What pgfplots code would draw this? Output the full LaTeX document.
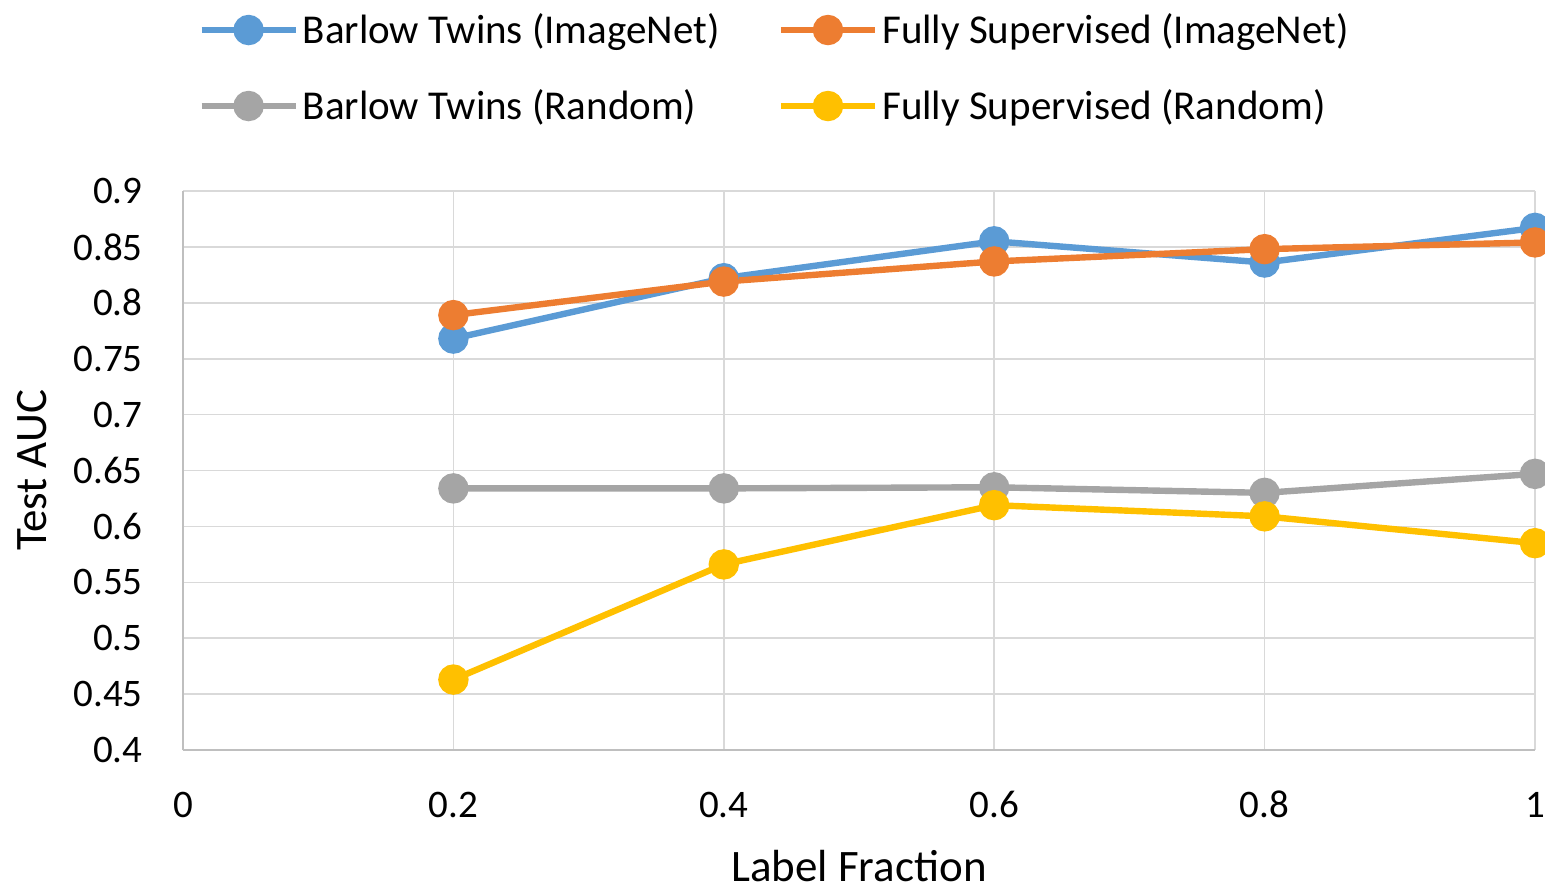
\documentclass[border=0pt]{standalone}
\usepackage{fontspec}
\setmainfont{Carlito}
\usepackage{pgfplots}
\pgfplotsset{compat=1.18}
\definecolor{cblue}{HTML}{5B9BD5}
\definecolor{corange}{HTML}{ED7D31}
\definecolor{cgray}{HTML}{A5A5A5}
\definecolor{cyellow}{HTML}{FFC000}
\definecolor{gridc}{HTML}{D9D9D9}
\definecolor{axisc}{HTML}{BFBFBF}
\begin{document}
\begin{tikzpicture}
\path[use as bounding box] (-91.5pt,-69pt) rectangle (681pt,375pt);
\begin{axis}[
  scale only axis, width=676pt, height=279.5pt,
  xmin=0, xmax=1, ymin=0.4, ymax=0.9,
  xtick={0,0.2,0.4,0.6,0.8,1},
  ytick={0.4,0.45,0.5,0.55,0.6,0.65,0.7,0.75,0.8,0.85,0.9},
  clip=false,
  grid=major,
  major grid style={color=gridc, line width=0.8pt},
  axis x line=bottom, axis y line=left,
  axis line style={-, color=axisc, line width=1pt},
  major tick length=0pt,
  /pgf/number format/assume math mode=true,
  ticklabel style={font=\fontsize{19.5}{23}\selectfont},
  yticklabel style={anchor=east, inner sep=0pt, xshift=-20pt},
  xticklabel style={anchor=base, inner sep=0pt, yshift=-33.5pt},
  xlabel={Label Fraction}, ylabel={Test AUC},
  label style={font=\fontsize{22.5}{27}\selectfont},
  xlabel style={at={(axis description cs:0.5,-0.2345)}, anchor=base, inner sep=0pt},
  ylabel style={at={(axis description cs:-0.1006,0.5)}, anchor=base, inner sep=0pt},
  legend columns=2,
  legend cell align=left,
  legend style={draw=none, fill=none, at={(axis description cs:0.0111,1.22)}, anchor=west,
    inner sep=0pt, row sep=21.5pt,
    nodes={inner sep=0pt, font=\fontsize{20.5}{24}\selectfont},
    /tikz/every odd column/.append style={column sep=2pt},
    /tikz/every even column/.append style={column sep=0pt}},
  legend image code/.code={\draw[mark repeat=2,mark phase=2,#1] plot coordinates {(0pt,0pt) (23.5pt,0pt) (47pt,0pt)};},
]
\addplot[cblue, line width=3.2pt, mark=*, mark size=6pt, mark options={fill=cblue, draw=none}]
  coordinates {(0.2,0.768) (0.4,0.822) (0.6,0.855) (0.8,0.836) (1,0.867)};
\addlegendentry{\makebox[237.5pt][l]{Barlow Twins (ImageNet)}}
\addplot[corange, line width=3.2pt, mark=*, mark size=6pt, mark options={fill=corange, draw=none}]
  coordinates {(0.2,0.789) (0.4,0.819) (0.6,0.837) (0.8,0.848) (1,0.854)};
\addlegendentry{Fully Supervised (ImageNet)}
\addplot[cgray, line width=3.2pt, mark=*, mark size=6pt, mark options={fill=cgray, draw=none}]
  coordinates {(0.2,0.634) (0.4,0.634) (0.6,0.635) (0.8,0.630) (1,0.647)};
\addlegendentry{\makebox[237.5pt][l]{Barlow Twins (Random)}}
\addplot[cyellow, line width=3.2pt, mark=*, mark size=6pt, mark options={fill=cyellow, draw=none}]
  coordinates {(0.2,0.463) (0.4,0.566) (0.6,0.619) (0.8,0.609) (1,0.585)};
\addlegendentry{Fully Supervised (Random)}
\end{axis}
\end{tikzpicture}
\end{document}
